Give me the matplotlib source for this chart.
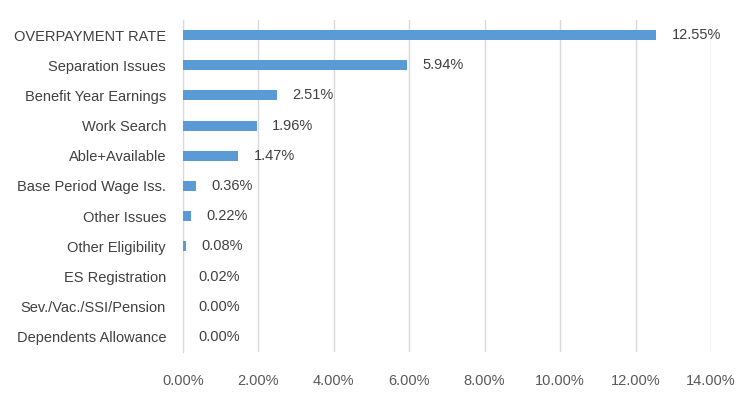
import matplotlib.pyplot as plt

# categories top to bottom as shown
categories = ['OVERPAYMENT RATE', 'Separation Issues', 'Benefit Year Earnings',
              'Work Search', 'Able+Available', 'Base Period Wage Iss.',
              'Other Issues', 'Other Eligibility', 'ES Registration',
              'Sev./Vac./SSI/Pension', 'Dependents Allowance']
rates = [12.55, 5.94, 2.51, 1.96, 1.47, 0.36, 0.22, 0.08, 0.02, 0.00, 0.00]
xticks = [0, 2, 4, 6, 8, 10, 12, 14]

plt.rcParams['font.family'] = ['Liberation Sans', 'DejaVu Sans']

fig = plt.figure(figsize=(7.5, 3.97), dpi=100)
ax = fig.add_axes([0.2436, 0.1134, 0.7044, 0.8362])

ypos = list(range(len(categories)))
ax.barh(ypos, rates, height=0.33, color='#5B9BD5', zorder=3)

for y, v in zip(ypos, rates):
    ax.annotate(f'{v:.2f}%', (v, y), xytext=(11, 0), textcoords='offset points',
                va='center', ha='left', fontsize=10.5, color='#404040')

ax.set_xlim(0, 14)
ax.set_ylim(len(categories) - 0.5, -0.5)
ax.set_xticks(xticks)
ax.set_xticklabels([f'{t:.2f}%' for t in xticks])
ax.set_yticks(ypos)
ax.set_yticklabels(categories)
ax.tick_params(axis='x', length=0, pad=16, labelsize=10.5, labelcolor='#595959')
ax.tick_params(axis='y', length=0, pad=12, labelsize=10.5, labelcolor='#404040')
ax.grid(axis='x', color='#D9D9D9', linewidth=1, zorder=0)
for s in ['top', 'right', 'bottom']:
    ax.spines[s].set_visible(False)
ax.spines['left'].set_color('#D9D9D9')

fig.savefig('out.png', dpi=100)
